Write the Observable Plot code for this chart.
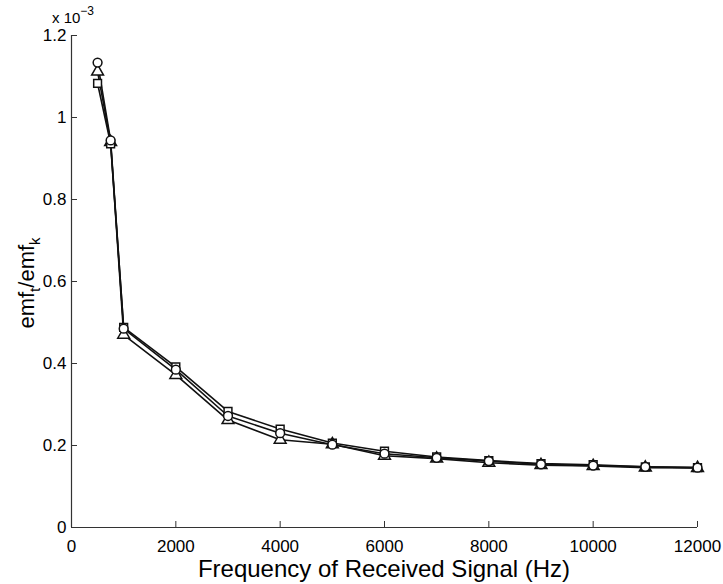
<!DOCTYPE html>
<html>
<head>
<meta charset="utf-8">
<script src="https://cdn.jsdelivr.net/npm/d3@7"></script>
<script src="https://cdn.jsdelivr.net/npm/@observablehq/plot@0.6"></script>
<style>
  html, body { margin: 0; padding: 0; background: #fff; }
  #chart svg { display: block; font-family: "Liberation Sans", Arial, Helvetica, sans-serif; }
</style>
</head>
<body>
<div id="chart"></div>
<script>
// Frequency of received signal (Hz)
const freq = [500, 750, 1000, 2000, 3000, 4000, 5000, 6000, 7000, 8000, 9000, 10000, 11000, 12000];
// emf_t/emf_k values in units of 1e-3
const circleSeries   = [1.134, 0.944, 0.485, 0.385, 0.272, 0.230, 0.202, 0.180, 0.170, 0.162, 0.154, 0.151, 0.148, 0.146];
const triangleSeries = [1.112, 0.940, 0.470, 0.372, 0.262, 0.214, 0.203, 0.175, 0.168, 0.158, 0.152, 0.150, 0.146, 0.145];
const squareSeries   = [1.083, 0.936, 0.488, 0.392, 0.283, 0.240, 0.206, 0.186, 0.172, 0.163, 0.156, 0.153, 0.148, 0.146];
const seriesNames = ["triangle", "square", "circle"];
const xTicks = [0, 2000, 4000, 6000, 8000, 10000, 12000];
const yTicks = [0, 0.2, 0.4, 0.6, 0.8, 1, 1.2];

const seriesValues = {circle: circleSeries, triangle: triangleSeries, square: squareSeries};
const data = seriesNames.flatMap(s => freq.map((f, i) => ({series: s, freq: f, value: seriesValues[s][i]})));

const ML = 71, MR = 26, MT = 35, MB = 57;
const plot = Plot.plot({
  width: 723,
  height: 584,
  marginLeft: ML,
  marginRight: MR,
  marginTop: MT,
  marginBottom: MB,
  style: {fontFamily: '"Liberation Sans", Arial, Helvetica, sans-serif', background: "#fff", color: "#000"},
  x: {domain: [0, 12000]},
  y: {domain: [0, 1.2]},
  symbol: {domain: ["circle", "triangle", "square"], range: ["circle", "triangle", "square"]},
  marks: [
    Plot.axisX({ticks: xTicks, tickSize: 0, tickPadding: 12, fontSize: 17, label: null, tickFormat: d => String(d)}),
    Plot.axisY({ticks: yTicks, tickSize: 0, tickPadding: 5, fontSize: 17, label: null, tickFormat: d => String(+d.toFixed(1))}),
    Plot.ruleX(xTicks, {x: d => d, y1: 0, y2: 0, insetTop: -6, stroke: "#333", strokeWidth: 1}),
    Plot.ruleY(yTicks, {y: d => d, x1: 0, x2: 0, insetRight: -6, stroke: "#333", strokeWidth: 1}),
    Plot.ruleY([0], {stroke: "#333", strokeWidth: 1.2}),
    Plot.ruleX([0], {stroke: "#333", strokeWidth: 1.2}),
    Plot.line(data, {x: "freq", y: "value", z: "series", stroke: "#111", strokeWidth: 1.6}),
    Plot.dot(data, {x: "freq", y: "value", symbol: "series", r: 4.4, fill: "#fff", stroke: "#111", strokeWidth: 1.5})
  ]
});

const svg = d3.select(plot);
// y-axis label with subscripts
const yl = svg.append("text")
  .attr("transform", `translate(34, 283) rotate(-90)`)
  .attr("text-anchor", "middle")
  .attr("font-size", 22)
  .attr("fill", "#000");
yl.append("tspan").text("emf");
yl.append("tspan").attr("font-size", 15).attr("dy", 6).text("t");
yl.append("tspan").attr("dy", -6).text("/emf");
yl.append("tspan").attr("font-size", 15).attr("dy", 6).text("k");

// x-axis label
svg.append("text")
  .attr("x", 384)
  .attr("y", 577)
  .attr("text-anchor", "middle")
  .attr("font-size", 24)
  .attr("fill", "#000")
  .text("Frequency of Received Signal (Hz)");

// exponent label
const ex = svg.append("text")
  .attr("x", 73)
  .attr("y", 23)
  .attr("font-size", 15)
  .attr("fill", "#000");
ex.append("tspan").text("x 10");
ex.append("tspan").attr("font-size", 12).attr("dy", -8).text("−3");

document.getElementById("chart").appendChild(plot);
</script>
</body>
</html>
